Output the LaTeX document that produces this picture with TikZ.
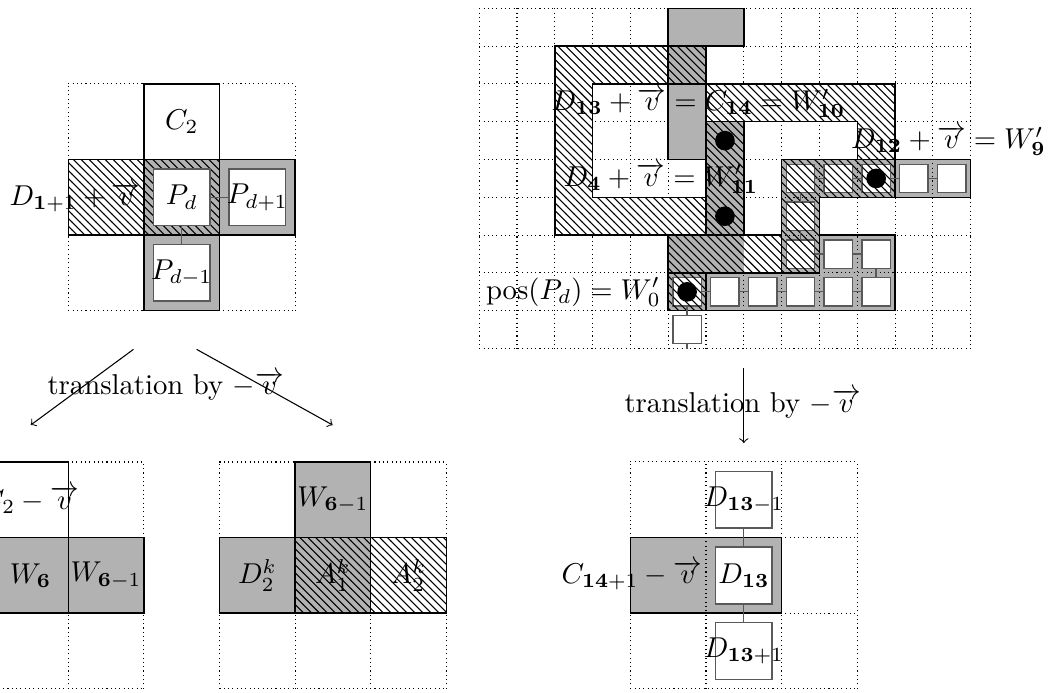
\RequirePackage{fix-cm}
\documentclass[tikz,border=0pt]{standalone}
\usepackage{amsmath}
\usetikzlibrary{patterns}
\begin{document}
\begin{tikzpicture}[
  every node/.style={font=\fontsize{10.8pt}{13pt}\selectfont},
  gridl/.style={line width=0.4pt, dash pattern=on 0.4pt off 1.22pt},
  outl/.style={draw=black, line width=0.55pt},
  grayf/.style={fill=black!30},
  hatchw/.style={fill=white, postaction={pattern=north west lines}},
  hatchg/.style={fill=black!30, postaction={pattern=north west lines}},
  hatcho/.style={pattern=north west lines},
  btile/.style={draw=black!65, line width=0.6pt, fill=white, minimum size=0.75cm, inner sep=0pt, outer sep=0pt},
  stile/.style={draw=black!65, line width=0.5pt, fill=white, minimum size=0.375cm, inner sep=0pt, outer sep=0pt},
  stileh/.style={stile, postaction={pattern=north west lines}},
  conn/.style={draw=black!65, line width=0.5pt},
  dot/.style={circle, fill=black, minimum size=0.26cm, inner sep=0pt},
  arr/.style={->, line width=0.4pt},
]
\useasboundingbox (-0.903,-5.044) rectangle (12.998,4.110);

% ---------- top-left ----------
\draw[outl, grayf] (2,1) rectangle (3,2);
\draw[outl, grayf] (1,0) rectangle (2,1);
\draw[outl, hatchg] (1,1) rectangle (2,2);
\draw[outl] (1,2) rectangle (2,3);
\draw[outl, hatchw] (0,1) rectangle (1,2);
\draw[gridl] (0,0) grid (3,3);
\node[btile] (Pd) at (1.5,1.5) {};
\node[btile] (Pdp) at (2.5,1.5) {};
\node[btile] (Pdm) at (1.5,0.5) {};
\draw[conn] (Pd) -- (Pdp);
\draw[conn] (Pd) -- (Pdm);
\node (lC2) at (1.5,2.5) {$C_2$};
\node (lPd) at (1.5,1.5) {$P_d$};
\node (lPdp) at (2.5,1.5) {$P_{d+1}$};
\node (lPdm) at (1.5,0.5) {$P_{d-1}$};
\node (lD1) at (0.089,1.5) {$D_{\mathbf{1}+1}+\overrightarrow{v}$};

% ---------- arrows left ----------
\coordinate (a1s) at (0.862,-0.511);
\coordinate (a1e) at (-0.497,-1.512);
\coordinate (a2s) at (1.698,-0.511);
\coordinate (a2e) at (3.497,-1.512);
\draw[arr] (a1s) -- (a1e);
\draw[arr] (a2s) -- (a2e);
\node (tl) at (1.288,-1.0) {translation by $-\overrightarrow{v}$};

% ---------- bottom-left ----------
\draw[outl, grayf] (-1,-4) rectangle (0,-3);
\draw[outl, grayf] (0,-4) rectangle (1,-3);
\draw[outl] (-1,-3) rectangle (0,-2);
\draw[gridl] (-2,-5) grid (1,-2);
\node (lC2v) at (-0.5,-2.5) {$C_2-\overrightarrow{v}$};
\node (lW6) at (-0.5,-3.5) {$W_{\mathbf{6}}$};
\node (lW6m) at (0.5,-3.5) {$W_{\mathbf{6}-1}$};

% ---------- bottom-middle ----------
\draw[outl, grayf] (3,-3) rectangle (4,-2);
\draw[outl, grayf] (2,-4) rectangle (3,-3);
\draw[outl, hatchg] (3,-4) rectangle (4,-3);
\draw[outl, hatchw] (4,-4) rectangle (5,-3);
\draw[gridl] (2,-5) grid (5,-2);
\node (mW6m) at (3.5,-2.5) {$W_{\mathbf{6}-1}$};
\node (mD2) at (2.5,-3.5) {$D^k_2$};
\node (mA1) at (3.5,-3.5) {$A^k_1$};
\node (mA2) at (4.5,-3.5) {$A^k_2$};

% ---------- bottom-right ----------
\begin{scope}[shift={(7.435,-5)}]
\draw[outl, grayf] (0,1) rectangle (2,2);
\foreach \i in {0,...,3} {\draw[gridl] (\i,0) -- (\i,3); \draw[gridl] (0,\i) -- (3,\i);}
\node[btile] (D13m) at (1.5,2.5) {};
\node[btile] (D13) at (1.5,1.5) {};
\node[btile] (D13p) at (1.5,0.5) {};
\draw[conn] (D13m) -- (D13);
\draw[conn] (D13) -- (D13p);
\node (lD13m) at (1.5,2.5) {$D_{\mathbf{13}-1}$};
\node (lD13) at (1.5,1.5) {$D_{\mathbf{13}}$};
\node (lD13p) at (1.5,0.5) {$D_{\mathbf{13}+1}$};
\node (lC14) at (0.02,1.5) {$C_{\mathbf{14}+1}-\overrightarrow{v}$};
\end{scope}

% ---------- arrow right ----------
\coordinate (a3s) at (8.935,-0.76);
\coordinate (a3e) at (8.935,-1.75);
\draw[arr] (a3s) -- (a3e);
\node (tr) at (8.92,-1.23) {translation by $-\overrightarrow{v}$};

% ---------- top-right ----------
\begin{scope}[shift={(5.435,4)}, x=0.5cm, y=-0.5cm]
% path band (under the grid)
\fill[black!30] (5,8) -- (11,8) -- (11,6) -- (9,6) -- (9,5) -- (13,5) -- (13,4) -- (8,4) -- (8,7) -- (5,7) -- cycle;
\foreach \i in {0,...,13} {\draw[gridl] (\i,0) -- (\i,9);}
\foreach \j in {0,...,9} {\draw[gridl] (0,\j) -- (13,\j);}
% white backgrounds of hatched parts
\fill[white] (6,1) -- (2,1) -- (2,6) -- (6,6) -- (6,5) -- (3,5) -- (3,2) -- (6,2) -- cycle;
\fill[white] (6,2) rectangle (11,3);
\fill[white] (10,3) rectangle (11,4);
\fill[white] (7,6) rectangle (8,7);
% gray parts
\fill[black!30] (5,0) -- (7,0) -- (7,1) -- (6,1) -- (6,4) -- (5,4) -- cycle;
\fill[black!30] (6,3) rectangle (7,6);
\fill[black!30] (5,6) rectangle (7,7);
% hatching
\fill[hatcho] (6,1) -- (2,1) -- (2,6) -- (6,6) -- (6,5) -- (3,5) -- (3,2) -- (6,2) -- cycle;
\fill[hatcho] (6,2) -- (11,2) -- (11,5) -- (9,5) -- (9,7) -- (6,7) -- (6,8) -- (5,8) -- (5,6) -- (8,6) -- (8,4) -- (10,4) -- (10,3) -- (6,3) -- cycle;
\fill[hatcho] (6,3) rectangle (7,6);
% outlines
\draw[outl] (5,8) -- (11,8) -- (11,6) -- (9,6) -- (9,5) -- (13,5) -- (13,4) -- (8,4) -- (8,7) -- (5,7) -- cycle;
\draw[outl] (5,0) -- (7,0) -- (7,1) -- (6,1) -- (6,4) -- (5,4) -- cycle;
\draw[outl] (6,1) -- (2,1) -- (2,6) -- (6,6) -- (6,5) -- (3,5) -- (3,2) -- (6,2) -- cycle;
\draw[outl] (6,2) -- (11,2) -- (11,5) -- (9,5) -- (9,7) -- (6,7) -- (6,8) -- (5,8) -- (5,6) -- (8,6) -- (8,4) -- (10,4) -- (10,3) -- (6,3) -- cycle;
\draw[outl] (6,3) rectangle (7,6);
% tiles
\node[stileh] (s8x4) at (8.5,4.5) {};
\node[stileh] (s9x4) at (9.5,4.5) {};
\node[stileh] (s10x4) at (10.5,4.5) {};
\node[stile] (s11x4) at (11.5,4.5) {};
\node[stile] (s12x4) at (12.5,4.5) {};
\node[stileh] (s8x5) at (8.5,5.5) {};
\node[stileh] (s8x6) at (8.5,6.5) {};
\node[stile] (s9x6) at (9.5,6.5) {};
\node[stile] (s10x6) at (10.5,6.5) {};
\node[stile] (s10x7) at (10.5,7.5) {};
\node[stile] (s9x7) at (9.5,7.5) {};
\node[stile] (s8x7) at (8.5,7.5) {};
\node[stile] (s7x7) at (7.5,7.5) {};
\node[stile] (s6x7) at (6.5,7.5) {};
\node[stileh] (s5x7) at (5.5,7.5) {};
\node[stile] (s5x8) at (5.5,8.5) {};
\coordinate (gb) at (5.5,9);
\draw[conn] (s8x4) -- (s9x4);
\draw[conn] (s9x4) -- (s10x4);
\draw[conn] (s10x4) -- (s11x4);
\draw[conn] (s11x4) -- (s12x4);
\draw[conn] (s8x4) -- (s8x5);
\draw[conn] (s8x5) -- (s8x6);
\draw[conn] (s8x6) -- (s9x6);
\draw[conn] (s9x6) -- (s10x6);
\draw[conn] (s10x6) -- (s10x7);
\draw[conn] (s10x7) -- (s9x7);
\draw[conn] (s9x7) -- (s8x7);
\draw[conn] (s8x7) -- (s7x7);
\draw[conn] (s7x7) -- (s6x7);
\draw[conn] (s6x7) -- (s5x7);
\draw[conn] (s5x7) -- (s5x8);
\draw[conn] (s5x8) -- (gb);
\node[dot] (d1) at (10.5,4.5) {};
\node[dot] (d2) at (5.5,7.5) {};
\node[dot] (d3) at (6.5,3.5) {};
\node[dot] (d4) at (6.5,5.5) {};
\end{scope}

% labels top-right
\node (lD13v) at (8.335,2.75) {$D_{\mathbf{13}}+\overrightarrow{v}=C_{\mathbf{14}}=W'_{\mathbf{10}}$};
\node (lD4v) at (7.837,1.75) {$D_{\mathbf{4}}+\overrightarrow{v}=W'_{\mathbf{11}}$};
\node (lD12v) at (11.64,2.25) {$D_{\mathbf{12}}+\overrightarrow{v}=W'_{\mathbf{9}}$};
\node (lpos) at (6.68,0.25) {$\mathrm{pos}(P_d)=W'_0$};
\end{tikzpicture}
\end{document}
